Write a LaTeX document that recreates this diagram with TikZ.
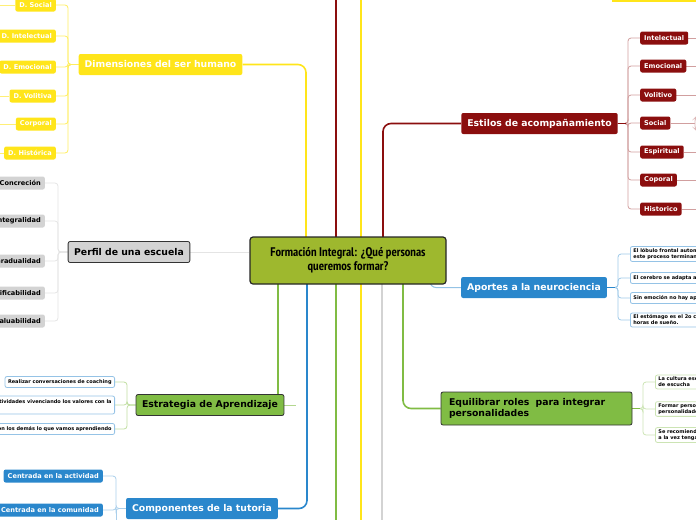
\documentclass[tikz,border=0pt]{standalone}
\usepackage{fontspec}
\setmainfont{DejaVu Sans}
\newfontfamily\titlefont{PT Sans Narrow}
\usetikzlibrary{calc,backgrounds}
\definecolor{yl}{HTML}{FFE51A}
\definecolor{dr}{HTML}{8B0E0E}
\definecolor{bl}{HTML}{2A87CC}
\definecolor{gr}{HTML}{80BC44}
\definecolor{ol}{HTML}{9EB82E}
\definecolor{gy}{HTML}{D3D3D3}
\tikzset{
 base/.style={rounded corners=2pt,inner sep=2pt,font=\bfseries},
 big/.style={base,font=\bfseries\fontsize{9.3}{11}\selectfont,inner xsep=6pt,minimum height=21pt},
 kid/.style={base,font=\bfseries\fontsize{6.6}{7}\selectfont,minimum height=13pt,inner xsep=4pt},
 tiny/.style={base,font=\bfseries\fontsize{5}{6}\selectfont,align=left,draw=#1,fill=white,line width=0.8pt,inner xsep=3pt},
 ln/.style={line width=1.6pt,rounded corners=8pt},
 br/.style={line width=0.8pt,rounded corners=3pt},
}
\begin{document}
\begin{tikzpicture}[x=1pt,y=-1pt]
\useasboundingbox (0,0) rectangle (696,520);
\fill[yl] (612,0) rectangle (696,2);
% central
\node[draw=black!85,line width=1.2pt,fill=ol,rounded corners=3pt,minimum width=196pt,minimum height=47pt,align=center,font=\titlefont\bfseries\fontsize{12.5}{14}\selectfont] (C) at (348,260.5) {Formación Integral: ¿Qué personas\\queremos formar?};
% main branches
\node[big,fill=yl,text=white] (dim) at (160.5,64.5) {Dimensiones del ser humano};
\node[big,fill=gy,text=black,draw=black!80,line width=0.8pt] (per) at (129,252) {Perfil de una escuela};
\node[big,fill=gr,text=black,draw=black!80,line width=0.8pt] (est) at (210,405) {Estrategia de Aprendizaje};
\node[big,fill=bl,text=white] (com) at (202,508.5) {Componentes de la tutoria};
\node[big,fill=dr,text=white] (sty) at (539.5,123.5) {Estilos de acompañamiento};
\node[big,fill=bl,text=white] (apo) at (534,287.5) {Aportes a la neurociencia};
\node[big,fill=gr,text=black,draw=black!80,line width=0.8pt,align=left,minimum width=191pt,minimum height=33pt,text width=175pt] (equ) at (536.5,408.5) {Equilibrar roles\ \ para integrar\\personalidades};
% children
\foreach \n/\t/\y in {a/D. Social/5,b/D. Intelectual/36,c/D. Emocional/67,d/D. Volitiva/96,e/Corporal/124,f/D. Histórica/153}{
 \node[kid,fill=yl,text=white,anchor=east] (dim\n) at (56,\y) {\t};}
\foreach \n/\t/\y in {a/Concreción/183,b/Integralidad/221,c/Gradualidad/261,d/Verificabilidad/293,e/Evaluabilidad/321}{
 \node[kid,fill=gy,text=black,anchor=east] (per\n) at (45,\y) {\t};}
\node[tiny=bl!50,anchor=east,minimum height=11pt] (esa) at (115,382) {Realizar conversaciones de coaching};
\node[tiny=bl!50,anchor=east,minimum height=18pt,text depth=6pt] (esb) at (115,405) {Realizar actividades vivenciando los valores con la};
\node[tiny=bl!50,anchor=east,minimum height=11pt] (esc) at (115,429) {Compartir con los demás lo que vamos aprendiendo};
\node[kid,fill=bl,text=white,anchor=east] (coa) at (103,476) {Centrada en la actividad};
\node[kid,fill=bl,text=white,anchor=east] (cob) at (103,510) {Centrada en la comunidad};
\foreach \n/\t/\y in {a/Intelectual/38,b/Emocional/66,c/Volitivo/95,d/Social/123,e/Espiritual/152,f/Coporal/180,g/Historico/209}{
 \node[kid,fill=dr,text=white,anchor=west] (sty\n) at (640,\y) {\t};}
\node[tiny=bl!50,anchor=west] (apa) at (630,254) {El lóbulo frontal automatiza\\este proceso terminando};
\node[tiny=bl!50,anchor=west,minimum height=11pt] (apb) at (630,278) {El cerebro se adapta a todo};
\node[tiny=bl!50,anchor=west,minimum height=11pt] (apc) at (630,298) {Sin emoción no hay aprendizaje};
\node[tiny=bl!50,anchor=west] (apd) at (630,320) {El estómago es el 2o cerebro\\horas de sueño.};
\node[tiny=gr!40,anchor=west] (eqa) at (655,382) {La cultura escolar\\de escucha};
\node[tiny=gr!40,anchor=west] (eqb) at (655,409) {Formar personas\\personalidades};
\node[tiny=gr!40,anchor=west] (eqc) at (655,435) {Se recomienda\\a la vez tengan};
\begin{scope}[on background layer]
\coordinate (c1) at (306,240); \coordinate (c2) at (336,240); \coordinate (c4) at (383,240);
\coordinate (d1) at (278,280); \coordinate (d2) at (307,280); \coordinate (d3) at (336,280);
\coordinate (d5) at (382,280); \coordinate (d6) at (403,280);
\coordinate (t1) at (336,0); \coordinate (t2) at (361,0);
\coordinate (b3) at (336,520); \coordinate (b4) at (361,520); \coordinate (b5) at (382,520);
\draw[ln,yl] (dim.east) -| (c1);
\draw[ln,dr] (c2) -- (t1);
\draw[ln,yl] (t2) -- (b4);
\draw[ln,dr] (c4) |- (sty.west);
\draw[line width=1pt,gy!60] (per.east) -- (C.west |- per.east);
\draw[ln,gr] (d1) -- (d1 |- est.north);
\draw[line width=0.8pt,gr!60] (est.east) -- ++(12,0);
\draw[ln,bl] (d2) |- (com.east);
\draw[ln,gr] (d3) -- (b3);
\draw[ln,gy] (d5) -- (b5);
\draw[ln,gr] (d6) |- (equ.west);
\draw[line width=1pt,bl!50,rounded corners=6pt] (430,280) |- (apo.west);
\foreach \n/\y in {a/5,b/36,c/67,d/96,e/124,f/153}{
 \draw[br,yl!70] (dim.west) -- (68,64.5) |- (dim\n.east);
 \draw[br,yl!60] (dim\n.west) -- ++(-20,0);}
\foreach \n in {a,b,c,d,e}{\draw[br,gy!60] (per.west) -- (58,252) |- (per\n.east);}
\foreach \n in {a,b,c}{\draw[br,gr!50] (est.west) -- (127,405) |- (es\n.east);}
\foreach \n in {a,b}{\draw[br,bl!40] (com.west) -- (116,508.5) |- (co\n.east);}
\draw[br,bl!40] (116,508.5) -- (116,520);
\foreach \n/\y in {a/38,b/66,c/95,d/123,e/152,f/180,g/209}{
 \draw[br,dr!40] (sty.east) -- (628,123.5) |- (sty\n.west);
 \draw[br,dr!40] (sty\n.east) -- (700,\y);}
\draw[line width=1.4pt,dr] (sty.east) -- ++(8,0);
\foreach \n in {a,b,c,d}{\draw[br,bl!45] (apo.east) -- (618,287.5) |- (ap\n.west);}
\draw[line width=1.4pt,bl] (apo.east) -- ++(8,0);
\foreach \n in {a,b,c}{\draw[br,gr!40] (equ.east) -- (643,408.5) |- (eq\n.west);}
\draw[line width=1.2pt,gr] (equ.east) -- ++(8,0);
\end{scope}
\draw[br,dr!30,fill=white] (700,116) -- (697,116) -- (695,118) -- (695,129) -- (697,131) -- (700,131);
\end{tikzpicture}
\end{document}
